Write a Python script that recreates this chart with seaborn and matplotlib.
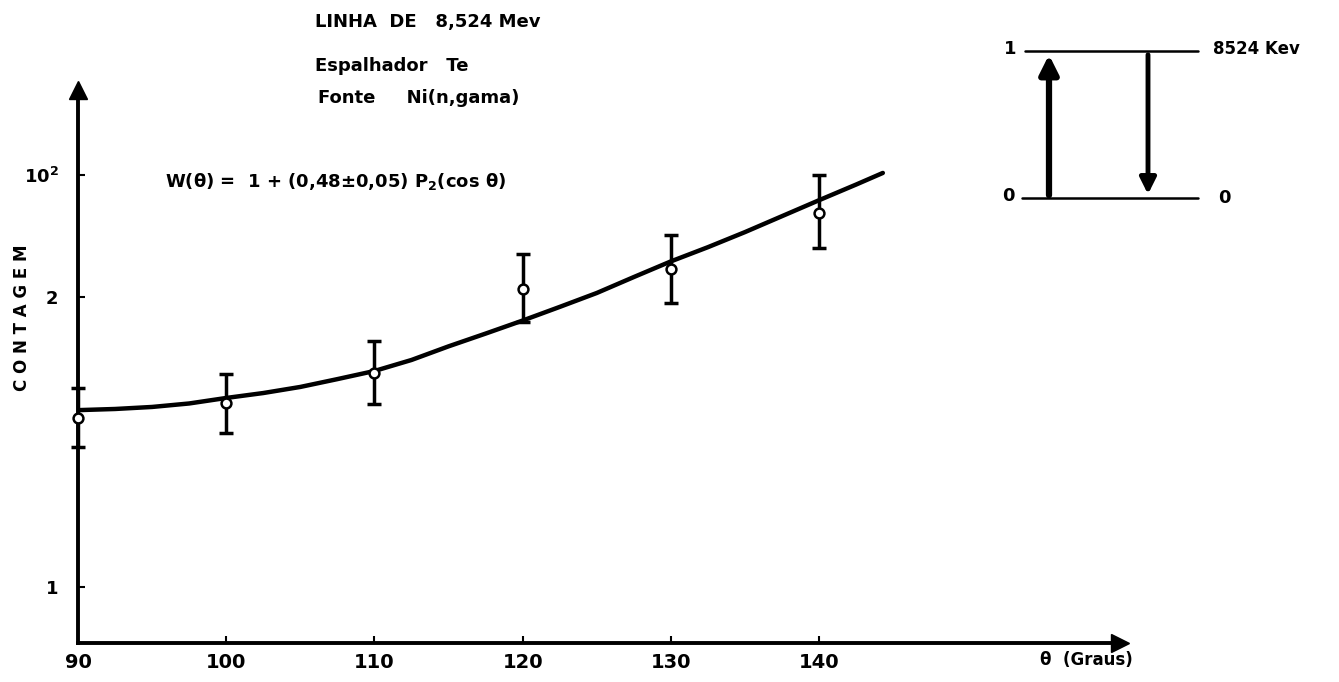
import matplotlib
matplotlib.use("Agg")
import matplotlib.pyplot as plt
import seaborn as sns
import pandas as pd
from matplotlib.lines import Line2D
from matplotlib.patches import FancyArrowPatch

# measured points (graus) with error bars
theta_pts = [90, 100, 110, 120, 130, 140]
count_pts = [1.583, 1.634, 1.738, 2.028, 2.097, 2.290]
err_low = [1.483, 1.531, 1.631, 1.914, 1.979, 2.169]
err_high = [1.686, 1.734, 1.848, 2.148, 2.214, 2.421]

# fitted W(theta) curve
theta_fit = [90, 92.5, 95, 97.5, 100, 102.5, 105, 107.5, 110, 112.5, 115,
             117.5, 120, 122.5, 125, 127.5, 130, 132.5, 135, 137.5, 140,
             142.5, 144.3]
count_fit = [1.610, 1.614, 1.621, 1.633, 1.652, 1.669, 1.690, 1.717, 1.745,
             1.783, 1.830, 1.874, 1.919, 1.966, 2.014, 2.069, 2.123, 2.172,
             2.224, 2.279, 2.334, 2.388, 2.428]

x_ticks = [90, 100, 110, 120, 130, 140]
y_ticks = [1, 2, 2.42]
y_labels = ["1", "2", r"$\mathbf{10^2}$"]

W, H = 1339, 682


def fx(px):
    return px / W


def fy(py):
    return 1 - py / H


sns.set_style("ticks")
plt.rcParams["font.family"] = ["DejaVu Sans"]
plt.rcParams["font.weight"] = "bold"
for key in ["text.color", "axes.edgecolor", "axes.labelcolor",
            "xtick.color", "ytick.color"]:
    plt.rcParams[key] = "black"

fig = plt.figure(figsize=(W / 100, H / 100), dpi=100)
ax = fig.add_axes([fx(78), fy(643), fx(1120) - fx(78), fy(90) - fy(643)])

fit_df = pd.DataFrame({"theta": theta_fit, "count": count_fit})
sns.lineplot(data=fit_df, x="theta", y="count", ax=ax, color="black", lw=3.2)

pts_df = pd.DataFrame({"theta": theta_pts, "count": count_pts})
yerr = [[c - l for c, l in zip(count_pts, err_low)],
        [h - c for c, h in zip(count_pts, err_high)]]
eb = ax.errorbar(pts_df["theta"], pts_df["count"], yerr=yerr, fmt="none",
                 ecolor="black", elinewidth=2.5, capsize=5, capthick=2.5,
                 zorder=3)
for artist in eb.lines[1] + eb.lines[2]:
    artist.set_clip_on(False)
sns.scatterplot(data=pts_df, x="theta", y="count", ax=ax, s=50,
                facecolor="white", edgecolor="black", linewidth=1.8, zorder=4)
for coll in ax.collections:
    coll.set_clip_on(False)

ax.set_xlim(90, 160.3)
ax.set_ylim(0.807, 2.714)
ax.set_xticks(x_ticks)
ax.set_xticklabels([str(t) for t in x_ticks], fontsize=14, fontweight="bold")
ax.set_yticks(y_ticks)
ax.set_yticklabels(y_labels, fontsize=13, fontweight="bold")
ax.tick_params(axis="x", direction="in", length=5, width=1.5, pad=7)
ax.tick_params(axis="y", direction="in", length=5, width=1.5, pad=14)
ax.set_xlabel("")
ax.set_ylabel("")
sns.despine(ax=ax)
for s in ["left", "bottom"]:
    ax.spines[s].set_linewidth(2.8)

# axis arrow heads
ax.plot(1, 0, marker=">", color="black", markersize=13, transform=ax.transAxes,
        clip_on=False)
ax.plot(0, 1, marker="^", color="black", markersize=13, transform=ax.transAxes,
        clip_on=False)

fig.text(fx(22), fy(318), "C O N T A G E M", rotation=90, ha="center",
         va="center", fontsize=12, fontweight="bold")
fig.text(fx(1040), fy(660), "θ  (Graus)", ha="left", va="center",
         fontsize=12, fontweight="bold")

# titles
fig.text(fx(315), fy(22), "LINHA  DE   8,524 Mev", ha="left", va="center",
         fontsize=13, fontweight="bold")
fig.text(fx(315), fy(66), "Espalhador   Te", ha="left", va="center",
         fontsize=13, fontweight="bold")
fig.text(fx(318), fy(98), "Fonte     Ni(n,gama)", ha="left", va="center",
         fontsize=13, fontweight="bold")
fig.text(fx(165), fy(182), r"W(θ) =  1 + (0,48$\pm$0,05) P$_2$(cos θ)",
         ha="left", va="center", fontsize=13, fontweight="bold")

# level scheme
fig.add_artist(Line2D([fx(1025), fx(1198)], [fy(51), fy(51)], color="black", lw=1.8))
fig.add_artist(Line2D([fx(1022), fx(1198)], [fy(198), fy(198)], color="black", lw=1.8))
fig.text(fx(1010), fy(49), "1", ha="center", va="center", fontsize=13, fontweight="bold")
fig.text(fx(1008), fy(196), "0", ha="center", va="center", fontsize=13, fontweight="bold")
fig.text(fx(1213), fy(49), "8524 Kev", ha="left", va="center", fontsize=12, fontweight="bold")
fig.text(fx(1218), fy(198), "0", ha="left", va="center", fontsize=13, fontweight="bold")
fig.add_artist(FancyArrowPatch((fx(1049), fy(198)), (fx(1049), fy(52)),
                               transform=fig.transFigure, arrowstyle="-|>",
                               mutation_scale=28, lw=4.5, color="black"))
fig.add_artist(FancyArrowPatch((fx(1148), fy(52)), (fx(1148), fy(197)),
                               transform=fig.transFigure, arrowstyle="-|>",
                               mutation_scale=24, lw=3.5, color="black"))

fig.savefig("out.png", dpi=100)
